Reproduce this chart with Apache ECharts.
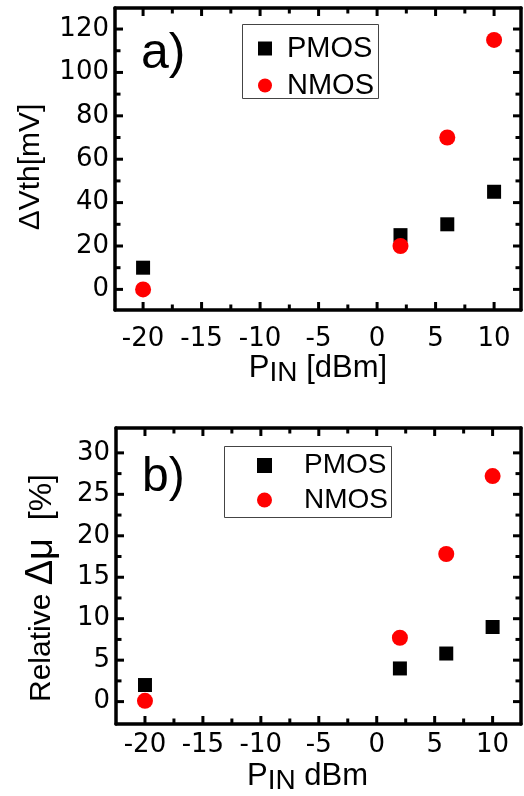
<!DOCTYPE html>
<html>
<head>
<meta charset="utf-8">
<script src="https://cdn.jsdelivr.net/npm/echarts@6/dist/echarts.min.js"></script>
<style>html,body{margin:0;padding:0;background:#fff}#c{width:524px;height:796px}</style>
</head>
<body>
<div id="c"></div>
<script>
// ---- data ----
const pIn = [-20, 2, 6, 10];
const dVthPMOS = [10, 25, 30, 45];
const dVthNMOS = [0, 20, 70, 115];
const dMuPMOS = [2.0, 4.0, 5.8, 9.0];
const dMuNMOS = [0.1, 7.7, 17.8, 27.2];
const xMajor = [-20, -15, -10, -5, 0, 5, 10];
const xMinor = [-17.5, -12.5, -7.5, -2.5, 2.5, 7.5];
const yMajorA = [0, 20, 40, 60, 80, 100, 120];
const yMinorA = [10, 30, 50, 70, 90, 110];
const yMajorB = [0, 5, 10, 15, 20, 25, 30];
const yMinorB = [2.5, 7.5, 12.5, 17.5, 22.5, 27.5];
const seriesNames = ['PMOS', 'NMOS'];

const LW = 3.5;
const tickFont = 'DejaVu Sans';
const textFont = 'Liberation Sans';
const N_PER = 2; // frame axes per dimension per grid

const extA = { x: [-22.4, 12.3], y: [-9.5, 129.7] };
const extB = { x: [-22.5, 12.45], y: [-2.7, 33.0] };

function frameAxes(dim, grid, ext, major, mainExtra) {
  const pos = dim === 'x' ? ['bottom', 'top'] : ['left', 'right'];
  const mkLine = () => ({ show: true, onZero: false, lineStyle: { color: '#000', width: LW } });
  const mkBase = () => ({ type: 'value', gridIndex: grid, min: ext[0], max: ext[1], splitLine: { show: false } });
  const main = Object.assign(mkBase(), {
    position: pos[0], axisLine: mkLine(), axisTick: { show: false },
    axisLabel: Object.assign({ show: true, customValues: major, color: '#000', fontFamily: tickFont, fontSize: 26 }, mainExtra.label)
  }, mainExtra.axis);
  const opp = Object.assign(mkBase(), { position: pos[1], axisLine: mkLine(), axisTick: { show: false }, axisLabel: { show: false } });
  return [main, opp];
}

const xAxes = [].concat(
  frameAxes('x', 0, extA.x, xMajor, {
    label: { margin: 16 },
    axis: {
      name: '{p|P}{s|IN}{p| [dBm]}', nameLocation: 'middle', nameGap: 37,
      nameTextStyle: { color: '#000', fontFamily: textFont, rich: {
        p: { fontSize: 31, fontFamily: textFont, color: '#000' },
        s: { fontSize: 28, fontFamily: textFont, color: '#000', padding: [10, 0, 0, 0] } } }
    }
  }),
  frameAxes('x', 1, extB.x, xMajor, {
    label: { margin: 8 },
    axis: {
      name: '{p|P}{s|IN}{p| dBm}', nameLocation: 'middle', nameGap: 33,
      nameTextStyle: { color: '#000', fontFamily: textFont, padding: [0, 22, 0, 0], rich: {
        p: { fontSize: 31, fontFamily: textFont, color: '#000' },
        s: { fontSize: 28, fontFamily: textFont, color: '#000', padding: [10, 0, 0, 0] } } }
    }
  })
);
const yAxes = [].concat(
  frameAxes('y', 0, extA.y, yMajorA, {
    label: { margin: 6 },
    axis: {
      name: 'ΔVth[mV]', nameLocation: 'middle', nameGap: 69,
      nameTextStyle: { color: '#000', fontFamily: textFont, fontSize: 30, padding: [0, 16, 0, 0] }
    }
  }),
  frameAxes('y', 1, extB.y, yMajorB, {
    label: { margin: 6 },
    axis: {
      name: '{a|Relative }{b|Δμ}{c|  [%]}', nameLocation: 'middle', nameGap: 55,
      nameTextStyle: { color: '#000', fontFamily: textFont, padding: [0, 24, 0, 0], rich: {
        a: { fontSize: 30, fontFamily: textFont, color: '#000' },
        b: { fontSize: 38, fontFamily: textFont, color: '#000' },
        c: { fontSize: 32, fontFamily: textFont, color: '#000' } } }
    }
  })
);

function sc(name, g, ys, sym, size, color) {
  return {
    type: 'scatter', name: name, xAxisIndex: g * N_PER, yAxisIndex: g * N_PER,
    symbol: sym, symbolSize: size, itemStyle: { color: color, opacity: 1 },
    data: pIn.map((x, i) => [x, ys[i]]), z: name === 'NMOS' ? 3 : 2
  };
}

// inward axis ticks on all four sides, positioned through the axes' own scales
function seg(x1, y1, x2, y2) {
  return { type: 'line', shape: { x1: x1, y1: y1, x2: x2, y2: y2 }, style: { stroke: '#000', lineWidth: 3 } };
}
function tickSeries(g, ext, dim, vals, len) {
  return {
    type: 'custom', xAxisIndex: g * N_PER, yAxisIndex: g * N_PER, silent: true, z: 4, clip: false,
    tooltip: { show: false },
    data: vals.map(v => dim === 'x' ? [v, ext.y[0]] : [ext.x[0], v]),
    renderItem: function (params, api) {
      if (dim === 'x') {
        const v = api.value(0);
        const a = api.coord([v, ext.y[0]]);
        const b = api.coord([v, ext.y[1]]);
        return { type: 'group', children: [seg(a[0], a[1], a[0], a[1] - len), seg(b[0], b[1], b[0], b[1] + len)] };
      }
      const v = api.value(1);
      const a = api.coord([ext.x[0], v]);
      const b = api.coord([ext.x[1], v]);
      return { type: 'group', children: [seg(a[0], a[1], a[0] + len, a[1]), seg(b[0], b[1], b[0] - len, b[1])] };
    }
  };
}

const option = {
  animation: false,
  backgroundColor: '#fff',
  grid: [
    { left: 115, top: 8, width: 406, height: 302 },
    { left: 116, top: 428, width: 405, height: 296 }
  ],
  title: [
    { text: 'a)', left: 141, top: 29, padding: 0, textStyle: { fontFamily: textFont, fontSize: 50, fontWeight: 'normal', color: '#000' } },
    { text: 'b)', left: 142, top: 454, padding: 0, textStyle: { fontFamily: textFont, fontSize: 48, fontWeight: 'normal', color: '#000' } }
  ],
  graphic: [
    { type: 'rect', shape: { x: 242.5, y: 24.5, width: 136, height: 74 }, style: { fill: '#fff', stroke: '#444', lineWidth: 1 }, z: 1 },
    { type: 'rect', shape: { x: 224.5, y: 446.5, width: 167, height: 71 }, style: { fill: '#fff', stroke: '#444', lineWidth: 1 }, z: 1 }
  ],
  legend: [
    { orient: 'vertical', left: 258, top: 30.5, padding: 0, itemGap: 1, itemWidth: 14, itemHeight: 14, z: 5,
      itemStyle: { opacity: 1 },
      data: [{ name: seriesNames[0], icon: 'rect' }, { name: seriesNames[1], icon: 'circle' }],
      textStyle: { fontFamily: textFont, fontSize: 29, color: '#000', lineHeight: 26, padding: [0, 0, 10, 10] } },
    { orient: 'vertical', left: 257, top: 451.5, padding: 0, itemGap: 6.5, itemWidth: 15, itemHeight: 15, z: 5,
      itemStyle: { opacity: 1 },
      data: [{ name: seriesNames[0], icon: 'rect' }, { name: seriesNames[1], icon: 'circle' }],
      textStyle: { fontFamily: textFont, fontSize: 28, color: '#000', lineHeight: 28, padding: [0, 0, 0, 27] } }
  ],
  xAxis: xAxes,
  yAxis: yAxes,
  series: [
    sc('PMOS', 0, dVthPMOS, 'rect', 14, '#000000'),
    sc('NMOS', 0, dVthNMOS, 'circle', 16, '#ff0000'),
    sc('PMOS', 1, dMuPMOS, 'rect', 14, '#000000'),
    sc('NMOS', 1, dMuNMOS, 'circle', 16, '#ff0000'),
    tickSeries(0, extA, 'x', xMajor, 8),
    tickSeries(0, extA, 'x', xMinor, 5.5),
    tickSeries(0, extA, 'y', yMajorA, 8),
    tickSeries(0, extA, 'y', yMinorA, 5.5),
    tickSeries(1, extB, 'x', xMajor, 8),
    tickSeries(1, extB, 'x', xMinor, 5.5),
    tickSeries(1, extB, 'y', yMajorB, 8),
    tickSeries(1, extB, 'y', yMinorB, 5.5)
  ]
};
const chart = echarts.init(document.getElementById('c'), null, { renderer: 'canvas' });
chart.setOption(option);
</script>
</body>
</html>
